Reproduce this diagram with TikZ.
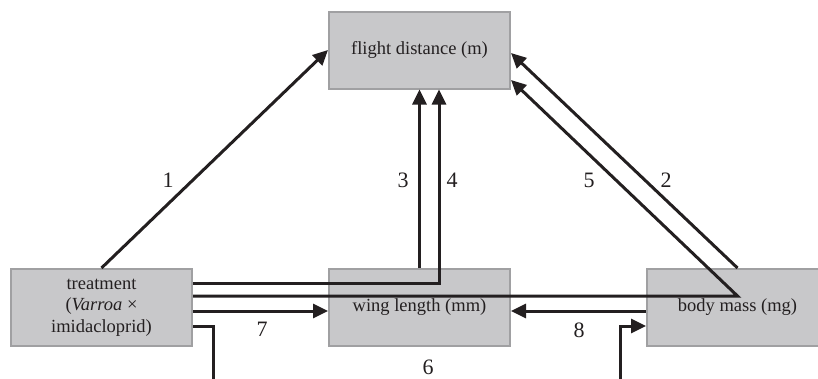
\documentclass[tikz,border=0pt]{standalone}
\usepackage{fontspec}
\setmainfont{Liberation Serif}
\usepackage{tikz}
\usetikzlibrary{positioning,arrows.meta}
\definecolor{boxfill}{RGB}{200,200,202}
\definecolor{boxline}{RGB}{160,160,162}
\definecolor{ink}{RGB}{35,31,32}

\begin{document}
\begin{tikzpicture}[x=1pt, y=-1pt,
  box/.style={draw=boxline, fill=boxfill, line width=2pt, rectangle, minimum width=181pt, minimum height=77pt, inner sep=0pt, align=center, text=ink, font=\fontsize{18.5}{21.5}\selectfont},
  lbl/.style={text=ink, inner sep=0pt, font=\fontsize{22}{26}\selectfont},
  arr/.style={draw=ink, line width=3pt, -{Triangle[length=15pt,width=14pt]}}]
\useasboundingbox (0,0) rectangle (818,378);
\clip (0,0) rectangle (818,378);

\node[box] (treat) at (101.5,307.5) {treatment\\(\textit{Varroa} ×\\imidacloprid)};
\node[box, right=135pt of treat] (wing) {wing length (mm)};
\node[box, right=135pt of wing] (body) {body mass (mg)};
\node[box, above=178.5pt of wing] (flight) {flight distance (m)};

% bends of path 6 below the picture
\coordinate (low6a) at (213,400);
\coordinate (low6b) at (620,400);

\draw[arr] (treat.north) -- (flight.west);
\draw[arr] (body.north) -- ([yshift=-3pt]flight.east);
\draw[arr] (wing.north) -- (flight.south);
\draw[arr] ([yshift=24.5pt]treat.east) -| ([xshift=19.5pt]flight.south);
\draw[arr] ([yshift=11.5pt]treat.east) -- ([yshift=11.5pt]body.center) -- ([yshift=-30pt]flight.east);
\draw[arr] ([yshift=-18.5pt]treat.east) -| (low6a) -- (low6b) |- ([yshift=-18.5pt]body.west);
\draw[arr] ([yshift=-3.5pt]treat.east) -- ([yshift=-3.5pt]wing.west);
\draw[arr] ([yshift=-3.5pt]body.west) -- ([yshift=-3.5pt]wing.east);

\node[lbl] (n1) at (168,180) {1};
\node[lbl] (n2) at (666,180) {2};
\node[lbl] (n3) at (403,180) {3};
\node[lbl] (n4) at (452,180) {4};
\node[lbl] (n5) at (589,180) {5};
\node[lbl] (n6) at (428,367) {6};
\node[lbl] (n7) at (262,329) {7};
\node[lbl] (n8) at (579,330) {8};
\end{tikzpicture}
\end{document}
